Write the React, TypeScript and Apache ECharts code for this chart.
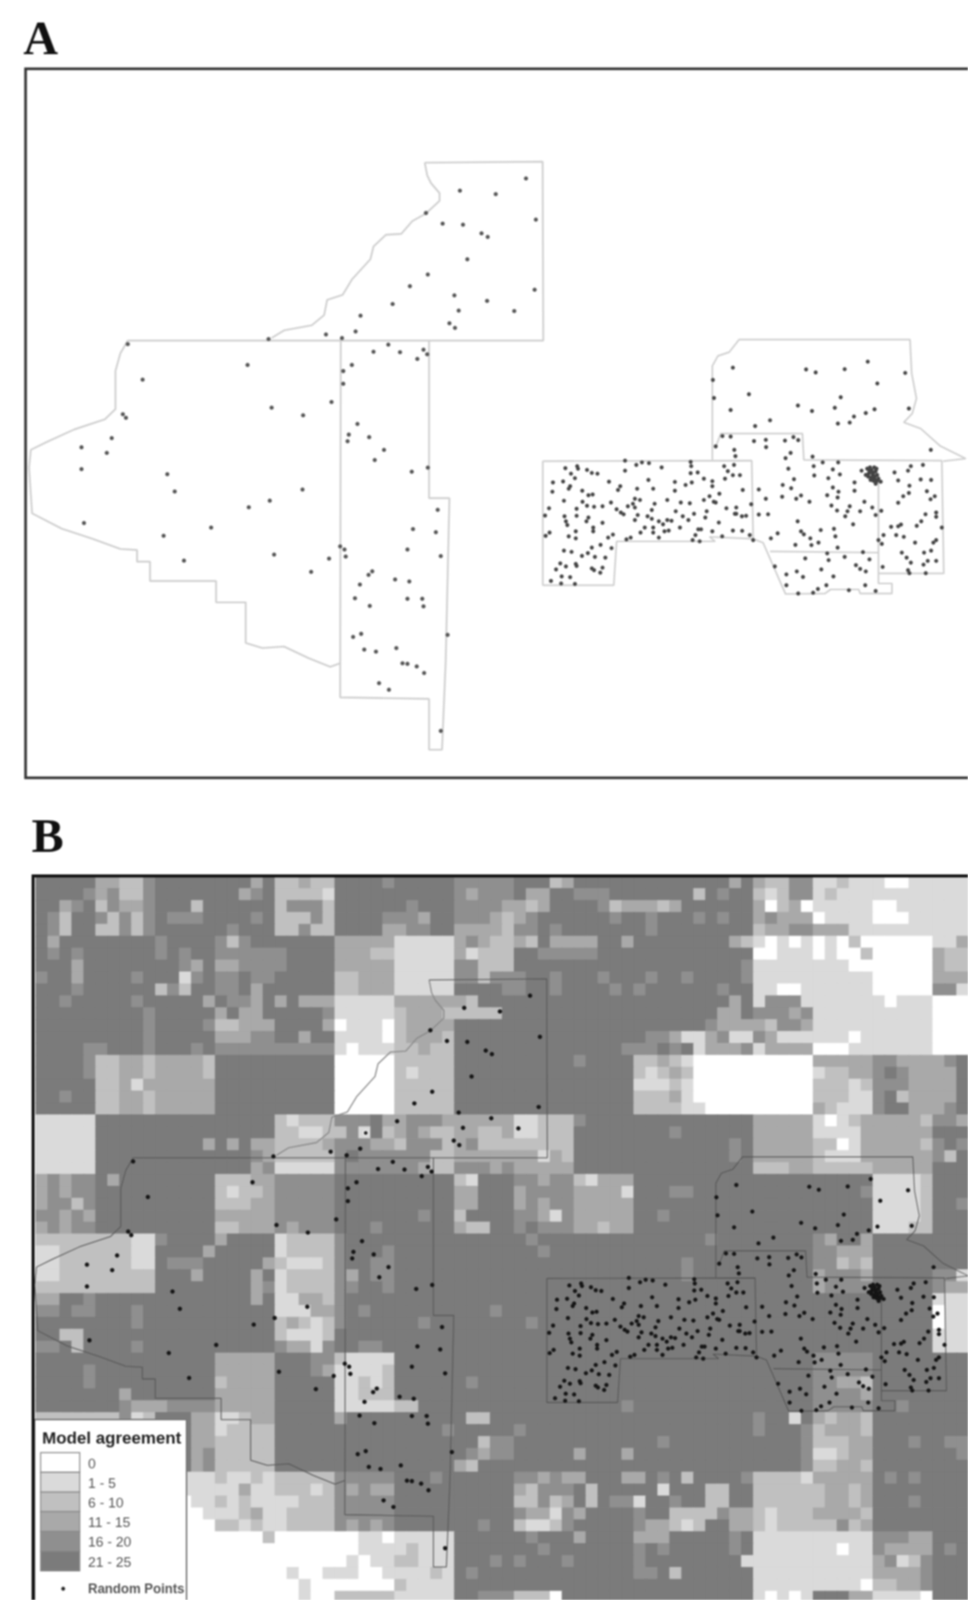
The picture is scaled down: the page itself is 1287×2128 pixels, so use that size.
import React, { useEffect, useRef } from "react";
import * as echarts from "echarts";

// Model agreement class of each raster cell (0 = "0" ... 5 = "21 - 25"), one string per row, grouped by coarse block
const rasterRows = [
"55555 33224 55555 55535 22322 55554 55555 44444 55523 55555 55555 55535 32244 11211 10011 111",
"55554 34224 55555 55345 22221 55555 55555 43444 53355 44455 55555 25455 21244 12111 11111 111",
"55345 24334 55525 55555 24442 55555 54555 44443 32355 55423 33235 55555 30230 11111 00111 111",
"54255 42424 54445 55545 22242 55554 44355 44432 34555 55545 54555 45455 34333 01111 00011 111",
"54255 22424 55555 54555 22422 55553 34455 33332 44545 55555 54555 55555 23344 33311 11111 111",
"53555 55555 45555 42455 55555 33333 11111 34322 32533 33553 55555 55532 10101 01020 00000 113",
"54545 55555 45455 44444 45555 33322 11111 31222 55444 44555 55555 55555 00111 01002 00000 322",
"55535 55555 55435 33444 45555 33333 11111 44222 55555 55555 55555 55554 11111 11100 00000 322",
"45535 55545 55145 44544 55555 22333 11111 44244 45545 55455 54554 55554 11111 11111 00000 333",
"55545 55555 24255 44535 55555 22333 11111 55554 45545 55545 45555 55455 11001 11111 00000 441",
"55455 55545 55553 54435 35333 11111 33333 32555 55555 55555 55555 55535 14441 11111 10111 000",
"55555 55554 55555 35335 55554 11111 23332 22225 55555 55555 55555 55335 44434 11111 11111 000",
"55555 55554 55554 22333 55553 01110 23333 55555 55555 55555 55555 54333 32443 11111 11111 000",
"55555 55554 55555 33344 55355 11110 23332 55555 55555 55555 54431 13411 43111 11101 11111 000",
"55554 45554 55545 44444 44444 10111 22322 55555 55555 55554 44545 13334 13333 00011 11111 000",
"55554 22332 33332 55555 55555 00000 22222 55555 55555 45555 22321 00000 00000 33333 44333 345",
"55554 22332 33332 55555 55555 00000 21222 55555 55555 55555 21232 00000 00000 12233 45433 335",
"55555 22313 33333 55555 55555 00000 22222 55555 55555 55555 11121 00000 00000 22212 44433 335",
"55455 22332 33333 55555 55555 00000 22222 55555 55555 55555 22231 00000 00000 22211 45233 335",
"55555 22332 33333 55555 55555 00000 22222 55555 55555 55555 22221 10000 00000 32111 45533 345",
"11111 55555 55555 55555 21222 44453 34443 33333 11222 45555 55555 55555 33333 10123 33332 443",
"11111 55555 55555 55555 22112 24152 34322 33223 11222 55555 55545 55555 33333 11113 33333 555",
"11111 55555 55553 53533 22223 44433 24442 34222 22222 55555 55555 55545 33333 22013 33332 454",
"11111 55555 55555 55543 22222 45444 44422 33333 33132 55555 55555 55545 33333 21113 33333 425",
"11111 55555 55555 55534 11111 44444 44322 44434 33333 55555 55555 55555 22233 22222 33333 555",
"34344 53555 55555 22233 44444 55555 55555 21555 44344 21333 55555 55555 55555 55555 11112 555",
"34344 55555 55555 21223 44444 55555 55555 33555 34444 33331 55544 55555 55555 55554 11112 555",
"34424 55555 55555 22233 44444 55555 55555 33555 34344 33333 55555 55555 55555 55555 11112 554",
"44343 55555 55555 33333 44444 55555 55455 25555 44314 33333 55455 55555 55555 55555 11112 555",
"34344 55555 55555 22333 43444 55545 55555 32255 45444 33233 55555 55555 55555 55555 11122 555",
"22222 22211 45555 35555 12222 45555 55555 55555 54555 55555 55555 54555 55555 43553 55555 555",
"11222 22211 55553 55555 12222 45554 55555 55555 55455 55555 55555 55555 55555 44333 55555 555",
"11222 22211 54445 55553 21112 45544 55555 55555 55555 55555 55554 55555 55555 44232 55555 555",
"11222 22222 55535 55535 12222 43544 55555 55555 55555 55555 55554 55555 55555 34443 55555 441",
"22222 22222 55555 55534 12222 44554 55555 55555 55555 55555 55555 55555 55555 34444 55555 433",
"33554 55555 55555 55535 11332 45555 55555 55555 55555 55555 55555 55555 55555 55555 55555 111",
"44544 55545 55555 55555 11133 45455 55555 55545 55555 55555 55555 55555 55555 55555 55555 011",
"55555 55545 55555 55555 23212 45555 55455 55555 54555 55555 55555 55555 55555 55555 55555 011",
"55225 55555 55555 55555 21112 55555 55555 55555 55555 55555 55555 55555 55555 55555 55555 111",
"44525 55545 55555 55555 43314 55445 55555 55555 55555 55555 55555 55555 55555 55555 55555 111",
"55555 55555 55555 33333 55544 21111 55555 55555 55555 55555 55555 55555 55555 44444 55555 555",
"55554 55555 55555 33333 55543 11112 55555 55555 55555 55555 55555 55555 55555 44444 55555 555",
"55554 55555 55555 23333 55555 11212 55555 54555 55555 55555 55555 55555 55555 44332 55555 555",
"55555 55355 55555 33333 55555 11222 55555 55555 55555 55555 55555 55555 55555 44443 55555 555",
"55555 55433 34444 33333 55555 11111 22555 55555 55555 55554 55555 55555 55555 44444 55455 555",
"22222 22412 55533 11233 55555 35555 55555 52255 55555 55555 55555 55555 45515 32332 55555 555",
"55555 55555 55533 12222 55555 55555 55554 55555 45555 55555 55555 55555 45554 23332 55555 555",
"55555 55555 55533 22222 55555 55555 55555 55244 55555 55555 55455 55555 55554 22233 55545 544",
"55555 55555 55534 22222 55555 55555 55555 54344 55555 35553 55555 55555 55554 11233 55555 554",
"55555 55555 55534 22222 55555 55555 55555 32555 55555 55555 55555 55555 55554 22332 55555 555",
"55555 55555 11111 21121 22222 44444 55545 55555 44343 35553 35452 55554 22221 33333 54545 555",
"55555 55555 11111 11311 22212 43433 55555 55555 32444 52555 55155 52255 22222 23323 55555 555",
"55555 55555 00011 21211 11222 44444 55555 55555 22423 52544 15545 52255 22222 23323 55545 555",
"55555 55555 00001 11231 12222 44444 55555 55555 43314 35555 45522 22433 21222 33332 55555 555",
"55555 55555 00000 22121 12222 43434 55555 55455 21124 55555 43321 25533 21222 22423 55555 555",
"55555 55555 00000 00002 00000 00110 11111 55555 54555 35555 33355 55545 11111 11111 44433 555",
"55555 55555 00000 00000 00000 00111 12111 55555 55455 55555 45455 55545 11111 11011 43333 545",
"55555 55555 00000 00000 00000 01011 22111 55545 45554 55555 45555 55551 11111 11111 34124 555",
"55555 55555 00000 00000 01001 11001 11121 54555 55555 55555 44525 55555 11111 11111 33334 555",
"55555 55555 00000 00000 00100 00000 21111 55555 55555 55555 55555 55555 11111 11110 22334 555",
"55555 55555 00000 00000 00100 22222 11111 55444 22205 55555 55555 55555 10101 55533 11110 555",
];

const classLabels = ["0", "1 - 5", "6 - 10", "11 - 15", "16 - 20", "21 - 25"];
const classColors = ["#ffffff", "#dadada", "#c0c0c0", "#a9a9a9", "#8f8f8f", "#7b7b7b"];

// West counties, read in picture units (1568 x 1568 for the upper 1287 x 1060 area)
const westRiver: number[][] = [[688,320],[692,345],[698,360],[712,380],[712,395],[690,420],[668,435],[650,460],[625,462],[605,485],[600,510],[570,550],[555,580],[530,590],[525,620],[505,640],[460,650],[440,665]];
const westOutlines: number[][][] = [
  [[688,320],[879,318],[880,670],[207,670],[195,695],[187,730],[187,805],[170,825],[120,845],[75,870],[50,885],[47,920],[52,1010],[100,1040],[150,1060],[195,1080],[222,1082],[222,1105],[243,1105],[243,1143],[350,1143],[350,1185],[398,1185],[398,1265],[425,1275],[460,1272],[500,1295],[535,1312],[551,1305]],
  [[552,665],[551,1372],[695,1375],[695,1475],[716,1475],[722,1300],[728,980],[695,980],[695,670]],
];
const westPoints: number[][] = [
  [852,351],[745,375],[803,382],[868,432],[690,419],[717,440],[750,442],[780,459],[790,466],[757,510],[693,540],[664,563],[866,570],[736,581],[789,592],[636,598],[743,611],[833,612],[584,621],[728,636],[737,645],[576,652],[528,658],[554,665],[435,667],[207,677],[629,678],[605,692],[648,693],[686,688],[692,697],[676,706],[570,718],[401,718],[556,730],[556,755],[231,747],[537,791],[440,802],[491,817],[199,815],[204,822],[579,834],[565,855],[598,860],[563,868],[181,862],[132,880],[622,885],[173,891],[607,905],[132,923],[693,920],[667,928],[271,933],[490,963],[283,967],[437,985],[403,998],[709,1003],[136,1029],[342,1038],[669,1041],[706,1047],[265,1054],[660,1081],[551,1075],[558,1081],[560,1095],[714,1094],[444,1091],[533,1099],[298,1103],[504,1125],[603,1124],[597,1131],[640,1140],[663,1144],[583,1150],[575,1177],[660,1178],[684,1178],[686,1193],[599,1192],[725,1249],[585,1247],[572,1253],[590,1278],[609,1282],[642,1275],[652,1305],[660,1306],[675,1311],[687,1324],[614,1344],[630,1357],[714,1438],
];
const ringedPoints: number[][] = [[585,621]];

// East counties, read in picture units (1568 x 1140 for the 587 x 380 area)
const eastOutlines: number[][][] = [
  [[660,545],[660,170],[680,130],[720,115],[755,65],[1362,65],[1368,200],[1385,300],[1370,360],[1340,395],[1400,420],[1470,490],[1560,540],[1480,550]],
  [[670,500],[690,440],[980,440],[985,545],[1475,548],[1482,998],[1250,998]],
  [[58,550],[800,548],[805,860],[650,852],[670,870],[320,870],[310,1045],[58,1045],[58,550]],
  [[805,860],[840,875],[920,1080],[1060,1078],[1080,1062],[1180,1062],[1185,1078],[1298,1078],[1298,1038],[1250,1038],[1250,600]],
  [[865,910],[1250,915]],
];
const eastPoints: number[][] = [
  [733,177],[993,184],[1027,196],[1130,183],[1212,153],[1345,198],[1246,240],[662,226],[666,298],[790,283],[1116,295],[964,328],[1014,350],[1095,337],[1236,343],[1205,358],[1163,372],[725,346],[1358,340],[1148,396],[1106,400],[865,387],[812,410],[696,450],[725,452],[808,470],[850,465],[851,494],[918,468],[948,454],[965,466],[672,491],[738,505],[742,530],[737,565],[938,517],[920,538],[1016,532],[1052,555],[1107,555],[1436,505],
  [180,570],[138,578],[183,580],[158,600],[172,618],[215,585],[232,597],[252,600],[350,548],[350,588],[390,565],[410,555],[435,558],[480,575],[583,553],[585,570],[583,598],[608,595],[630,620],[702,570],[715,590],[705,620],[733,606],[758,606],[94,635],[130,631],[92,672],[155,650],[150,660],[293,632],[333,650],[325,665],[198,668],[235,683],[220,686],[133,708],[393,660],[450,660],[433,625],[527,633],[527,668],[565,645],[587,635],[660,630],[660,650],[768,665],[825,663],[199,712],[215,728],[240,732],[270,730],[300,715],[178,740],[80,738],[178,768],[66,767],[135,770],[140,790],[145,805],[220,775],[213,790],[270,796],[237,815],[237,830],[175,830],[150,850],[175,858],[82,835],[68,848],[290,855],[307,843],[320,742],[335,755],[345,762],[360,730],[385,700],[378,720],[385,735],[403,705],[455,720],[445,745],[395,765],[385,785],[430,770],[445,780],[470,790],[500,785],[515,788],[485,802],[420,815],[405,835],[450,815],[450,835],[490,830],[505,827],[470,855],[545,815],[555,770],[575,785],[595,760],[530,750],[548,715],[580,718],[500,705],[630,705],[650,690],[685,680],[672,715],[665,712],[635,775],[640,750],[710,738],[745,735],[745,760],[740,760],[765,770],[780,768],[798,722],[683,795],[620,822],[610,822],[660,830],[695,850],[733,827],[766,828],[793,845],[805,865],[600,845],[590,865],[615,870],[355,862],[370,855],[232,895],[263,884],[133,907],[160,912],[197,928],[218,917],[243,932],[280,935],[302,897],[175,960],[178,968],[120,958],[105,982],[140,970],[232,978],[240,985],[270,975],[262,995],[125,1010],[155,1013],[87,1028],[123,1038],[172,1040],
  [825,763],[858,762],[850,700],[910,645],[940,658],[908,692],[958,700],[975,687],[1005,712],[930,580],[950,622],[1022,607],[1072,618],[1020,570],[1088,583],[1113,603],[1165,635],[1165,668],[1088,655],[1068,686],[1108,672],[1105,695],[1083,727],[1103,747],[1148,730],[1140,750],[1132,770],[1185,750],[1200,712],[1228,735],[1240,765],[1260,748],[963,790],[975,830],[985,842],[1045,825],[1092,820],[1097,850],[1008,858],[892,838],[868,858],[955,884],[1012,885],[1037,875],[1105,895],[1160,802],
  [1210,580],[1225,585],[1240,590],[1215,600],[1230,605],[1235,620],[1245,628],[1225,615],[1240,640],[1258,632],[1190,588],[1205,605],[1220,575],[1235,575],[1218,590],[1232,596],[1245,605],[1222,625],[1237,612],[1228,598],[1214,612],[1240,632],[1250,620],[1232,628],[1243,580],
  [1307,595],[1365,570],[1355,588],[1408,565],[1320,627],[1400,623],[1437,625],[1360,648],[1358,677],[1338,690],[1422,670],[1450,690],[1435,702],[1320,716],[1455,755],[1455,772],[1417,762],[1402,790],[1386,808],[1330,803],[1320,810],[1295,812],[1475,815],[1340,852],[1313,845],[1268,845],[1250,865],[1262,880],[1380,875],[1455,865],[1445,875],[1333,915],[1412,915],[1437,907],[1350,935],[1365,955],[1410,963],[1425,948],[1455,948],[1265,972],[1355,985],[1360,997],[1418,997],
  [990,938],[1068,918],[1073,945],[1130,932],[1195,913],[1218,942],[882,970],[960,990],[1047,982],[1170,965],[1185,980],[1205,990],[923,1002],[982,1012],[1090,1010],[923,1045],[965,1078],[1018,1075],[1035,1060],[1065,1045],[1145,1065],[1203,1045],[1240,1068],
];

export default function App() {
  const ref = useRef<HTMLDivElement>(null);
  useEffect(() => {
    document.body.style.margin = "0";
    document.body.style.background = "#fff";
    const chart = echarts.init(ref.current!, undefined, { renderer: "svg" });

    const rows = rasterRows.map((r) => r.replace(/ /g, ""));
    const nCols = 78;
    const heat: any[] = [];
    rows.forEach((r, y) => {
      for (let x = 0; x < nCols; x++) {
        const v = Number(r[x] ?? "5");
        heat.push({ value: [x, y, v], itemStyle: { borderColor: classColors[v], borderWidth: 0.7 } });
      }
    });

    const hidden = { show: false };
    const valAxis = (min: number, max: number, gridIndex: number, inverse = false) => ({
      type: "value", min, max, gridIndex, inverse, show: false, splitLine: hidden, axisLine: hidden, axisTick: hidden, axisLabel: hidden,
    });
    const CELL_X = 15.9, CELL_Y = 15.84;

    const outlines = (lines: number[][][], axis: number, color: string, width: number, z: number) =>
      lines.map((d) => ({
        type: "line", xAxisIndex: axis, yAxisIndex: axis, data: d, showSymbol: false, symbol: "none",
        lineStyle: { color, width }, z, silent: true,
      }));
    const dots = (d: number[][], axis: number, color: string, size: number, z: number) => ({
      type: "scatter", xAxisIndex: axis, yAxisIndex: axis, data: d, symbol: "circle", symbolSize: size,
      itemStyle: { color, opacity: 1 }, z, silent: true,
    });

    const legendX = 54, legendTop = 1932, swatchH = 26.2;
    const legendEls: any[] = [
      { type: "rect", shape: { x: 46, y: 1888, width: 202, height: 250 }, style: { fill: "#fff", stroke: "#777", lineWidth: 2 }, z: 100 },
      { type: "text", style: { x: 56, y: 1912, text: "Model agreement", font: 'bold 22.5px "Liberation Sans"', fill: "#222", textVerticalAlign: "middle" }, z: 101 },
      { type: "text", style: { x: 117, y: 2113, text: "Random Points", font: 'bold 17.5px "Liberation Sans"', fill: "#555", textVerticalAlign: "middle" }, z: 101 },
      { type: "circle", shape: { cx: 84, cy: 2113, r: 2.6 }, style: { fill: "#222" }, z: 101 },
    ];
    classLabels.forEach((label, i) => {
      legendEls.push({
        type: "rect",
        shape: { x: legendX, y: legendTop + i * swatchH, width: 52, height: swatchH },
        style: { fill: classColors[i], stroke: "#8a8a8a", lineWidth: 1.5 }, z: 101,
      });
      legendEls.push({
        type: "text",
        style: { x: 117, y: legendTop + i * swatchH + 14, text: label, font: '18.5px "Liberation Sans"', fill: "#555", textVerticalAlign: "middle" }, z: 101,
      });
    });

    chart.setOption({
      animation: false,
      backgroundColor: "#ffffff",
      grid: [
        { left: 47.8, top: 1166, width: CELL_X * nCols, height: CELL_Y * rows.length },
        { left: 0, top: 0, width: 1287, height: 1060 },
        { left: 700, top: 430, width: 587, height: 380 },
        { left: 7.6, top: 1087, width: 1283, height: 1060 },
        { left: 705.5, top: 1517, width: 585, height: 380 },
      ],
      xAxis: [
        { type: "category", gridIndex: 0, show: false, data: Array.from({ length: nCols }, (_, i) => String(i)) },
        valAxis(0, 1568, 1), valAxis(0, 1568, 2), valAxis(0, 1568, 3), valAxis(0, 1568, 4),
      ],
      yAxis: [
        { type: "category", gridIndex: 0, show: false, inverse: true, data: rows.map((_, i) => String(i)) },
        valAxis(0, 1568, 1, true), valAxis(0, 1140, 2, true), valAxis(0, 1568, 3, true), valAxis(0, 1140, 4, true),
      ],
      visualMap: {
        type: "piecewise", show: false, seriesIndex: 0, dimension: 2,
        pieces: classColors.map((color, i) => ({ value: i, color })),
      },
      series: [
        {
          type: "heatmap", xAxisIndex: 0, yAxisIndex: 0, data: heat, silent: true, z: 1,
          emphasis: { disabled: true },
        },
        ...outlines([westRiver, ...westOutlines], 1, "#cfcfcf", 2.4, 5),
        ...outlines(eastOutlines, 2, "#cfcfcf", 2.2, 5),
        dots(westPoints, 1, "#555555", 5.5, 6),
        dots(eastPoints, 2, "#444444", 5.4, 6),
        ...outlines([westRiver], 3, "#888888", 1.6, 5),
        ...outlines(westOutlines, 3, "#585858", 1.3, 5),
        ...outlines(eastOutlines, 4, "#505050", 1.1, 5),
        dots(westPoints, 3, "#151515", 5.8, 6),
        dots(eastPoints, 4, "#151515", 5.6, 6),
        {
          type: "scatter", xAxisIndex: 3, yAxisIndex: 3, data: ringedPoints, symbol: "circle", symbolSize: 7,
          itemStyle: { color: "#222", borderColor: "#e8e8e8", borderWidth: 2, opacity: 1 }, z: 6, silent: true,
        },
      ],
      graphic: [
        { type: "text", style: { x: 31, y: 50, text: "A", font: 'bold 64px "Liberation Serif"', fill: "#111", textVerticalAlign: "middle" }, z: 100 },
        { type: "text", style: { x: 42, y: 1111, text: "B", font: 'bold 64px "Liberation Serif"', fill: "#111", textVerticalAlign: "middle" }, z: 100 },
        { type: "polyline", shape: { points: [[1290, 91.5], [34, 91.5], [34, 1034.5], [1290, 1034.5]] }, style: { fill: "none", stroke: "#333", lineWidth: 3.5 }, z: 100 },
        { type: "polyline", shape: { points: [[1290, 1165], [44, 1165], [44, 2140]] }, style: { fill: "none", stroke: "#111", lineWidth: 4 }, z: 102 },
        ...legendEls,
      ],
    });
    return () => chart.dispose();
  }, []);
  return (
    <div style={{ position: "absolute", left: 0, top: 0, width: 1287, height: 2128, overflow: "hidden", filter: "blur(1px)" }}>
      <div ref={ref} style={{ width: 1330, height: 2180 }} />
    </div>
  );
}
